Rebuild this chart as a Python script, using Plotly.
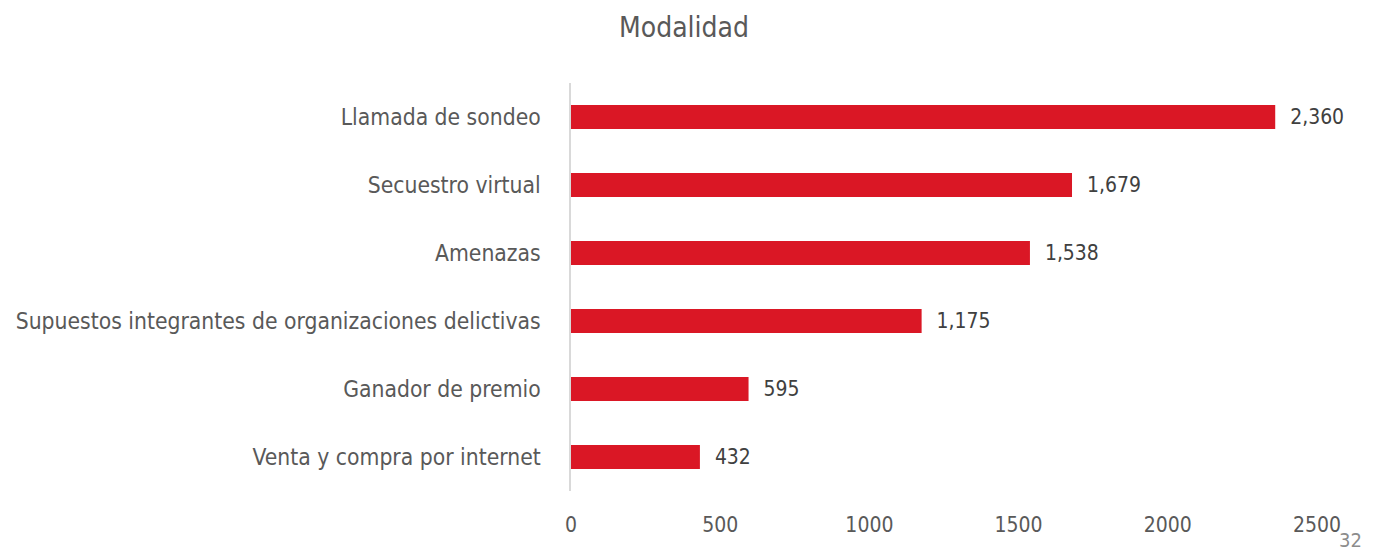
import plotly.graph_objects as go

categories = ["Llamada de sondeo", "Secuestro virtual", "Amenazas",
              "Supuestos integrantes de organizaciones delictivas",
              "Ganador de premio", "Venta y compra por internet"]
values = [2360, 1679, 1538, 1175, 595, 432]
tick_vals = [0, 500, 1000, 1500, 2000, 2500]

FONT = "DejaVu Sans Condensed, Liberation Sans Narrow, Roboto, sans-serif"

fig = go.Figure(go.Bar(
    y=categories[::-1], x=values[::-1], orientation="h",
    marker=dict(color="#DA1725", line=dict(width=0)),
    width=0.35,
    text=["\u00a0\u00a0" + f"{v:,}" for v in values[::-1]], textposition="outside",
    textfont=dict(family=FONT, size=22, color="#404040"),
    cliponaxis=False,
))

fig.update_layout(
    width=1374, height=554,
    margin=dict(l=563, r=65, t=75, b=71, autoexpand=False),
    plot_bgcolor="white", paper_bgcolor="white",
    title=dict(text="Modalidad", x=676 / 1374, xanchor="center", y=1 - 19 / 554,
               yref="container", yanchor="middle", xref="container",
               font=dict(family=FONT, size=28, color="#595959")),
    showlegend=False,
    xaxis=dict(range=[0, 2500], tickvals=tick_vals, ticktext=[str(t) for t in tick_vals],
               showgrid=False, zeroline=False, showline=False, ticks="",
               ticklabelstandoff=19, automargin=False,
               tickfont=dict(family=FONT, size=21, color="#595959")),
    yaxis=dict(showgrid=False, zeroline=False, showline=True, linecolor="#D9D9D9",
               linewidth=1.5, ticks="", ticklabelstandoff=24, automargin=False,
               tickfont=dict(family=FONT, size=22.7, color="#595959")),
)

fig.add_annotation(text="32", xref="paper", yref="paper", x=1.0 + 47 / 746, y=-49 / 408,
                   xanchor="right", yanchor="middle", showarrow=False,
                   font=dict(family=FONT, size=20, color="#8C8C8C"))

fig.write_html("out.html")
